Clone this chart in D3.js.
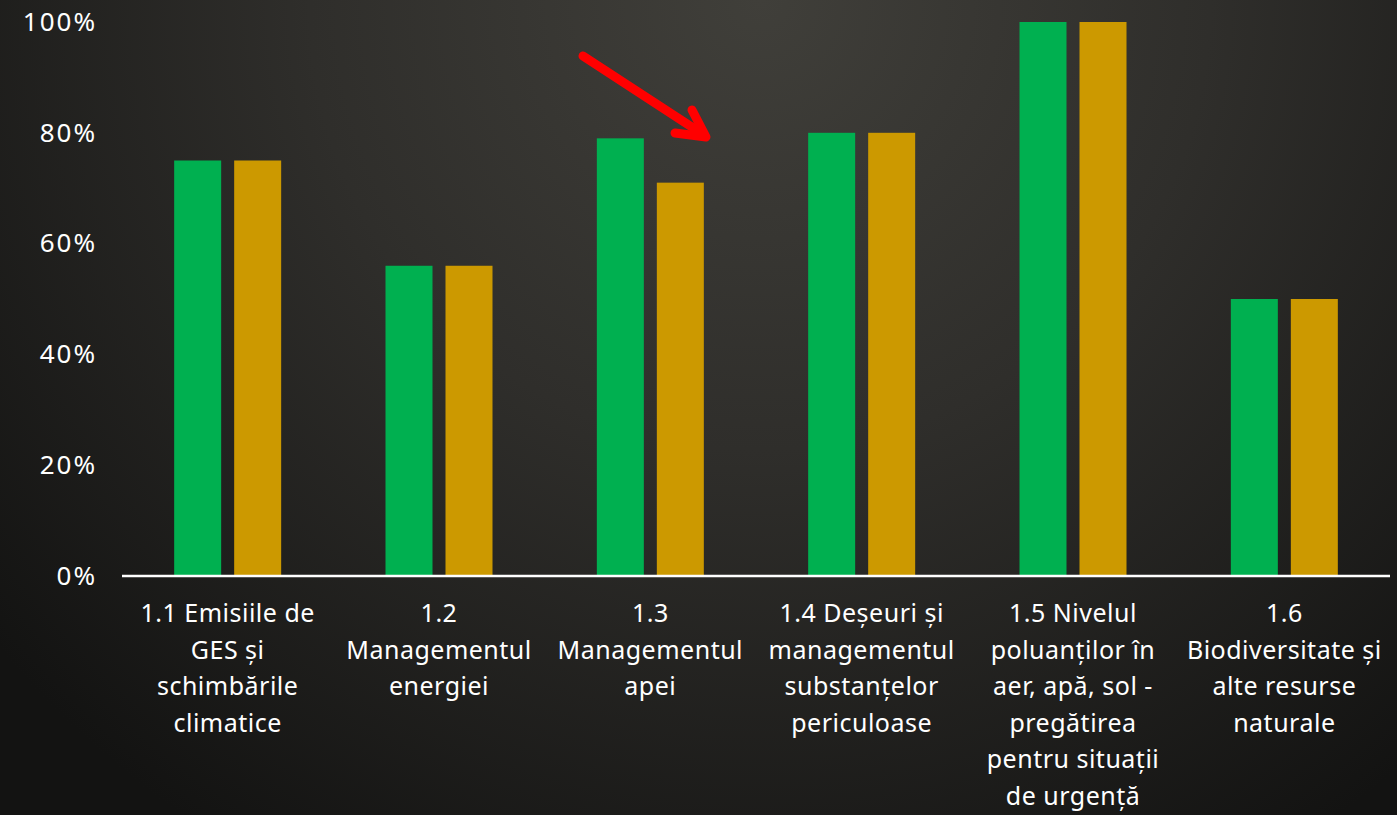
<!DOCTYPE html>
<html><head><meta charset="utf-8">
<script src="https://cdn.jsdelivr.net/npm/d3@7"></script>
<style>html,body{margin:0;padding:0;background:#1a1a18;overflow:hidden}</style>
</head><body>
<script>
const categories = [
  ["1.1 Emisiile de","GES și","schimbările","climatice"],
  ["1.2","Managementul","energiei"],
  ["1.3","Managementul","apei"],
  ["1.4 Deșeuri și","managementul","substanțelor","periculoase"],
  ["1.5 Nivelul","poluanților în","aer, apă, sol -","pregătirea","pentru situații","de urgență"],
  ["1.6","Biodiversitate și","alte resurse","naturale"]
];
const seriesGreen = [75, 56, 79, 80, 100, 50];
const seriesGold  = [75, 56, 71, 80, 100, 50];
const yTicks = [0, 20, 40, 60, 80, 100];
const colors = ["#00B050", "#CC9900"];

const W = 1397, H = 815;
const svg = d3.select("body").append("svg").attr("width", W).attr("height", H);
const defs = svg.append("defs");
const rg = defs.append("radialGradient").attr("id","bg").attr("gradientUnits","userSpaceOnUse")
  .attr("cx", 760).attr("cy", 0).attr("r", 1000);
rg.append("stop").attr("offset","0%").attr("stop-color","#403f3a");
rg.append("stop").attr("offset","45%").attr("stop-color","#2f2e2b");
rg.append("stop").attr("offset","100%").attr("stop-color","#131312");
svg.append("rect").attr("width",W).attr("height",H).attr("fill","url(#bg)");

const font = "'Noto Sans', Lato, sans-serif";
const x0 = d3.scaleBand().domain(d3.range(categories.length)).range([122, 1390]);
const y = d3.scaleLinear().domain([0,100]).range([576, 22]);
const barW = 47, gap = 13;

const data = categories.map((c,i)=>({i, vals:[seriesGreen[i], seriesGold[i]]}));
const g = svg.append("g");
data.forEach(d=>{
  const cx = x0(d.i) + x0.bandwidth()/2;
  d.vals.forEach((v,k)=>{
    const xl = k===0 ? cx - gap/2 - barW : cx + gap/2;
    g.append("rect").attr("x", xl).attr("y", y(v)).attr("width", barW)
      .attr("height", y(0)-y(v)).attr("fill", colors[k]);
  });
});

// y axis labels
const ya = svg.append("g").attr("transform","translate(97,0)")
  .call(d3.axisLeft(y).tickValues(yTicks).tickFormat(d=>d+"%").tickSize(0).tickPadding(0));
ya.select(".domain").remove();
ya.selectAll("text").attr("fill","#ffffff").style("font-family",font)
  .style("font-size","26px").style("letter-spacing","2px");

// baseline
svg.append("line").attr("x1",122).attr("x2",1390).attr("y1",576).attr("y2",576)
  .attr("stroke","#ffffff").attr("stroke-width",2.5);

// category labels
categories.forEach((lines,i)=>{
  const cx = x0(i) + x0.bandwidth()/2;
  const t = svg.append("text").attr("text-anchor","middle").attr("fill","#ffffff")
    .style("font-family",font).style("font-size","25px").style("letter-spacing","0.5px");
  lines.forEach((ln,j)=>{
    t.append("tspan").attr("x",cx).attr("y",622 + j*36.5).text(ln);
  });
});

// red arrow
const arrow = svg.append("g").attr("stroke","#ff0000").attr("stroke-width",9)
  .attr("stroke-linecap","round").attr("stroke-linejoin","round").attr("fill","none");
arrow.append("line").attr("x1",583).attr("y1",56).attr("x2",704).attr("y2",135);
arrow.append("polyline").attr("points","692,110 706,137 675,133");
</script>
</body></html>
